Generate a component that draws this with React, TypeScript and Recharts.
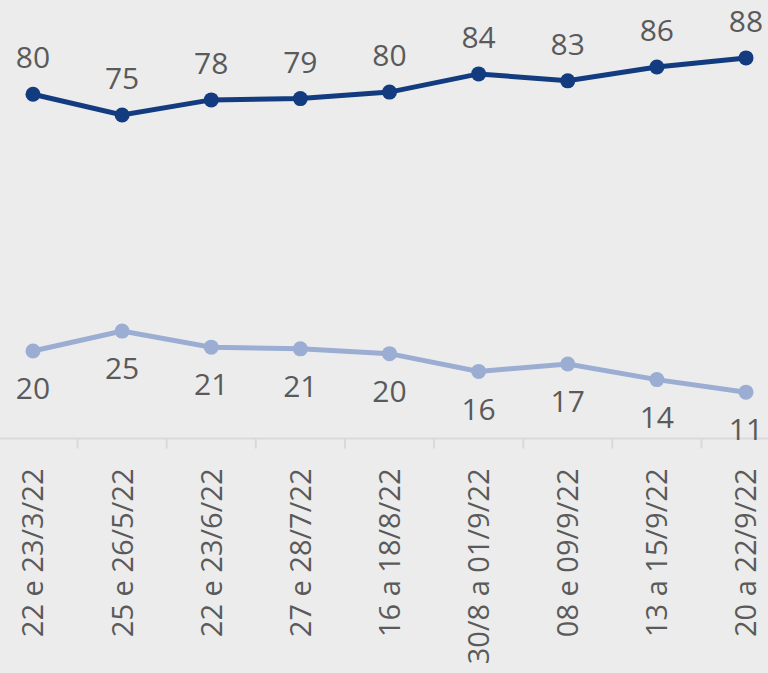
import { LineChart, Line, XAxis, YAxis, LabelList } from 'recharts';

// Survey periods and the two series
const periods = [
  '22 e 23/3/22',
  '25 e 26/5/22',
  '22 e 23/6/22',
  '27 e 28/7/22',
  '16 a 18/8/22',
  '30/8 a 01/9/22',
  '08 e 09/9/22',
  '13 a 15/9/22',
  '20 a 22/9/22',
];
const upperSeries = [79.5, 74.7, 78.2, 78.5, 80.0, 84.2, 82.6, 85.8, 87.9];
const lowerSeries = [20.2, 24.8, 21.1, 20.7, 19.6, 15.5, 17.2, 13.6, 10.7];

const DARK = '#123c7f';
const LIGHT = '#9badd3';
const TEXT = '#5a5a5a';
const BG = '#ececec';
const FONT = '"Open Sans", sans-serif';

const CHART_W = 768;
const CHART_H = 673;
const PAD = { left: 33, right: 22 };
const PLOT_BOTTOM = 438.5;
// distance between two neighbouring periods (point scale)
const STEP = (CHART_W - PAD.left - PAD.right) / (periods.length - 1);

const data = periods.map((period, i) => ({
  period,
  upper: upperSeries[i],
  lower: lowerSeries[i],
}));

function PeriodTick({ x, payload }: { x: number; payload: { value: string } }) {
  const ly = PLOT_BOTTOM + 30;
  const bx = x - STEP / 2;
  return (
    <g>
      <line x1={bx} x2={bx} y1={PLOT_BOTTOM} y2={PLOT_BOTTOM + 10} stroke="#d9d9d9" strokeWidth={2} />
      <text
        x={x}
        y={ly}
        transform={`rotate(-90, ${x}, ${ly})`}
        textAnchor="end"
        dy="0.36em"
        fill={TEXT}
        fontSize={29}
        fontFamily={FONT}
      >
        {payload.value}
      </text>
    </g>
  );
}

const round = (v: unknown) => Math.round(Number(v));

export default function App() {
  return (
    <div
      style={{
        position: 'absolute',
        left: 0,
        top: 0,
        width: CHART_W,
        height: CHART_H,
        overflow: 'hidden',
        background: BG,
      }}
    >
      <LineChart
        width={CHART_W}
        height={CHART_H}
        data={data}
        margin={{ top: 5.5, right: 0, left: 0, bottom: 0 }}
      >
        <XAxis
          dataKey="period"
          height={CHART_H - PLOT_BOTTOM}
          interval={0}
          padding={PAD}
          tickLine={false}
          axisLine={{ stroke: '#d9d9d9', strokeWidth: 2 }}
          tick={(p: any) => <PeriodTick {...p} />}
        />
        <YAxis hide domain={[0, 100]} />
        <Line
          type="linear"
          dataKey="upper"
          stroke={DARK}
          strokeWidth={5}
          dot={{ r: 7.5, fill: DARK, stroke: DARK, strokeWidth: 0 }}
          activeDot={false}
          isAnimationActive={false}
        >
          <LabelList
            dataKey="upper"
            position="top"
            offset={26}
            formatter={round}
            fill={TEXT}
            fontSize={30}
            fontFamily={FONT}
          />
        </Line>
        <Line
          type="linear"
          dataKey="lower"
          stroke={LIGHT}
          strokeWidth={5}
          dot={{ r: 7.5, fill: LIGHT, stroke: LIGHT, strokeWidth: 0 }}
          activeDot={false}
          isAnimationActive={false}
        >
          <LabelList
            dataKey="lower"
            position="bottom"
            offset={27}
            formatter={round}
            fill={TEXT}
            fontSize={30}
            fontFamily={FONT}
          />
        </Line>
      </LineChart>
    </div>
  );
}
